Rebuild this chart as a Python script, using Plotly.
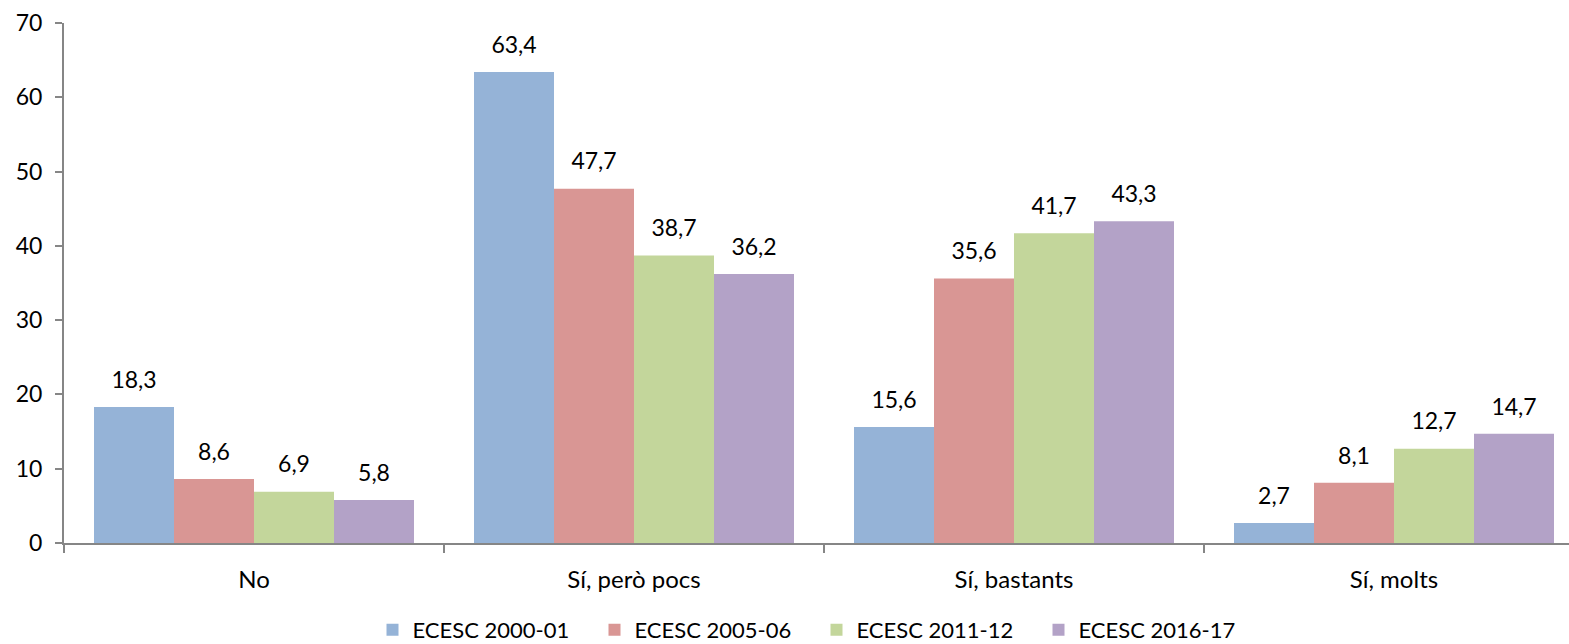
"""ECESC grouped bar chart."""

import plotly.graph_objects as go

categories = ["No", "Sí, però pocs", "Sí, bastants", "Sí, molts"]
series_names = ["ECESC 2000-01", "ECESC 2005-06", "ECESC 2011-12", "ECESC 2016-17"]
ecesc_2000 = [18.3, 63.4, 15.6, 2.7]
ecesc_2005 = [8.6, 47.7, 35.6, 8.1]
ecesc_2011 = [6.9, 38.7, 41.7, 12.7]
ecesc_2016 = [5.8, 36.2, 43.3, 14.7]
colors = ["#95B3D7", "#D99694", "#C3D69B", "#B3A2C7"]

FONT = "Lato, sans-serif"
AXIS = "#868686"
SIZE = 23

fig = go.Figure()
all_values = [ecesc_2000, ecesc_2005, ecesc_2011, ecesc_2016]
for i, (name, vals) in enumerate(zip(series_names, all_values)):
    fig.add_trace(
        go.Bar(
            x=categories,
            y=vals,
            name=name,
            marker=dict(color=colors[i], line=dict(width=0)),
            offsetgroup=str(i),
        )
    )
# value labels as grouped text scatters so they sit above each bar
for i, vals in enumerate(all_values):
    fig.add_trace(
        go.Scatter(
            x=categories,
            y=vals,
            mode="markers+text",
            text=[f"{v:.1f}".replace(".", ",") for v in vals],
            textposition="top center",
            textfont=dict(family=FONT, size=SIZE, color="#000000"),
            marker=dict(size=20, opacity=0),
            offsetgroup=str(i),
            showlegend=False,
            hoverinfo="skip",
            cliponaxis=False,
        )
    )

fig.update_layout(
    width=1569,
    height=644,
    barmode="group",
    bargap=60 / 380,
    bargroupgap=0,
    scattermode="group",
    scattergap=60 / 380,
    plot_bgcolor="white",
    paper_bgcolor="white",
    font=dict(family=FONT, size=SIZE, color="#000000"),
    margin=dict(l=64, r=0, t=23, b=101, autoexpand=False),
    showlegend=True,
    legend=dict(
        orientation="h",
        x=0.5,
        xanchor="center",
        y=-0.167,
        yanchor="middle",
        font=dict(family=FONT, size=22, color="#000000"),
        entrywidth=177,
        itemwidth=30,
        traceorder="normal",
    ),
)
fig.update_xaxes(
    range=[-0.5, 3.5 - 15 / 380],
    showline=True,
    linecolor=AXIS,
    linewidth=2,
    ticks="outside",
    tickson="boundaries",
    ticklen=8,
    tickcolor=AXIS,
    tickwidth=2,
    showgrid=False,
    zeroline=False,
    ticklabelstandoff=14,
    tickfont=dict(size=24),
    automargin=False,
)
fig.update_yaxes(
    range=[0, 70],
    dtick=10,
    showline=True,
    linecolor=AXIS,
    linewidth=2,
    ticks="outside",
    ticklen=7,
    tickcolor=AXIS,
    tickwidth=2,
    showgrid=False,
    zeroline=False,
    ticklabelstandoff=8,
    automargin=False,
)

fig.write_html(
    "out.html",
    config={"displayModeBar": False},
    post_script="document.body.style.margin='0';",
)
